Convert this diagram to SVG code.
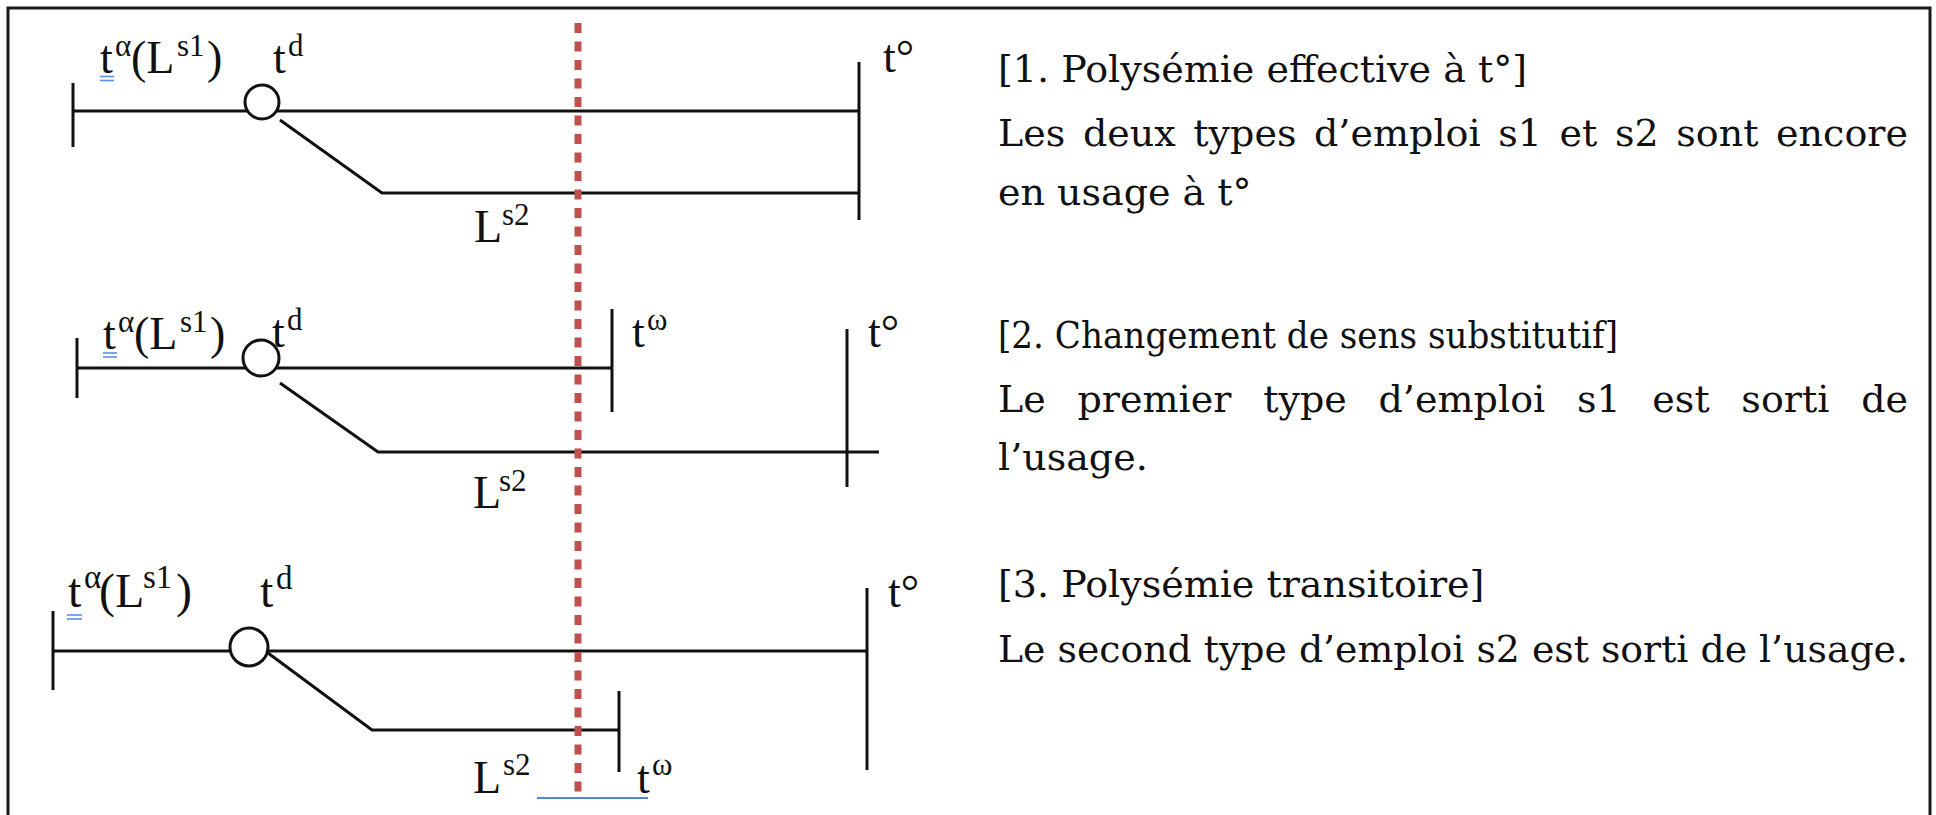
<svg xmlns="http://www.w3.org/2000/svg" width="1936" height="815" viewBox="0 0 1936 815">
<style>
.ln{stroke:#111;stroke-width:3;fill:none;stroke-linecap:butt}
.node{fill:#fff;stroke:#111;stroke-width:3}
.lab{font-family:"Liberation Serif","Times New Roman",serif;font-size:46px;fill:#111}
.sup{font-size:31px}
.lab3{font-size:48px}
.sup3{font-size:33px}
.txt{font-family:"DejaVu Serif","Liberation Serif",serif;font-size:38px;fill:#111}
.ul{stroke:#5B8FE8;stroke-width:1.6}
.red{stroke:#C0504D;stroke-width:7;stroke-dasharray:10 8.5}
</style>
<rect x="0" y="0" width="1936" height="815" fill="#fff"/>
<rect x="8" y="8" width="1922" height="830" fill="none" stroke="#1a1a1a" stroke-width="3"/>

<g id="connectors">
  <!-- diagram 1 -->
  <line class="ln" x1="73" y1="111" x2="859" y2="111"/>
  <polyline class="ln" points="280,120 382,193 859,193"/>
  <line class="ln" x1="73" y1="83" x2="73" y2="147"/>
  <line class="ln" x1="859" y1="62" x2="859" y2="220"/>
  <!-- diagram 2 -->
  <line class="ln" x1="77" y1="368" x2="612" y2="368"/>
  <polyline class="ln" points="280,383 378,452 879,452"/>
  <line class="ln" x1="77" y1="338" x2="77" y2="398"/>
  <line class="ln" x1="612" y1="309" x2="612" y2="412"/>
  <line class="ln" x1="847" y1="329" x2="847" y2="487"/>
  <!-- diagram 3 -->
  <line class="ln" x1="53" y1="651" x2="867" y2="651"/>
  <polyline class="ln" points="268,653 372,730 619,730"/>
  <line class="ln" x1="53" y1="611" x2="53" y2="690"/>
  <line class="ln" x1="867" y1="588" x2="867" y2="770"/>
  <line class="ln" x1="619" y1="691" x2="619" y2="772"/>
  <!-- red dashed reference line -->
  <line class="red" x1="578" y1="23" x2="578" y2="796"/>
  <!-- blue marks -->
  <line class="ul" x1="100" y1="76.5" x2="114" y2="76.5"/>
  <line class="ul" x1="100" y1="80.5" x2="114" y2="80.5"/>
  <line class="ul" x1="103" y1="353" x2="117" y2="353"/>
  <line class="ul" x1="103" y1="357" x2="117" y2="357"/>
  <line class="ul" x1="67" y1="615" x2="82" y2="615"/>
  <line class="ul" x1="67" y1="619" x2="82" y2="619"/>
  <line x1="537" y1="798" x2="648" y2="798" stroke="#4A86E8" stroke-width="2.2"/>
</g>

<g id="diagram1">
  <circle class="node" cx="262" cy="102" r="17"/>
  <text class="lab"><tspan x="100" y="73">t</tspan><tspan class="sup" x="115" y="56">α</tspan><tspan x="131" y="73">(L</tspan><tspan class="sup" x="177" y="56">s1</tspan><tspan x="207" y="73">)</tspan></text>
  <text class="lab"><tspan x="273" y="73">t</tspan><tspan class="sup" x="288" y="56">d</tspan></text>
  <text class="lab" x="883" y="72">t°</text>
  <text class="lab"><tspan x="474" y="242">L</tspan><tspan class="sup" x="502" y="225">s2</tspan></text>
</g>

<g id="diagram2">
  <circle class="node" cx="261" cy="358" r="18"/>
  <text class="lab"><tspan x="103" y="349">t</tspan><tspan class="sup" x="118" y="332">α</tspan><tspan x="134" y="349">(L</tspan><tspan class="sup" x="180" y="332">s1</tspan><tspan x="210" y="349">)</tspan></text>
  <text class="lab"><tspan x="272" y="347">t</tspan><tspan class="sup" x="287" y="330">d</tspan></text>
  <text class="lab"><tspan x="632" y="347">t</tspan><tspan class="sup" x="647" y="330">ω</tspan></text>
  <text class="lab" x="868" y="347">t°</text>
  <text class="lab"><tspan x="473" y="508">L</tspan><tspan class="sup" x="499" y="491">s2</tspan></text>
</g>

<g id="diagram3">
  <circle class="node" cx="249" cy="647" r="19"/>
  <text class="lab lab3"><tspan x="68" y="607">t</tspan><tspan class="sup3" x="84" y="588">α</tspan><tspan x="99" y="607">(L</tspan><tspan class="sup3" x="143" y="588">s1</tspan><tspan x="176" y="607">)</tspan></text>
  <text class="lab lab3"><tspan x="260" y="607">t</tspan><tspan class="sup3" x="276" y="589">d</tspan></text>
  <text class="lab" x="888" y="607">t°</text>
  <text class="lab"><tspan x="473" y="793">L</tspan><tspan class="sup" x="503" y="775">s2</tspan></text>
  <text class="lab"><tspan x="637" y="793">t</tspan><tspan class="sup" x="652" y="775">ω</tspan></text>
</g>

<g id="text1">
  <text class="txt" x="998" y="82">[1. Polysémie effective à t°]</text>
  <text class="txt" x="998" y="146" word-spacing="5.5" textLength="910" lengthAdjust="spacing">Les deux types d’emploi s1 et s2 sont encore</text>
  <text class="txt" x="998" y="205">en usage à t°</text>
</g>
<g id="text2">
  <text class="txt" x="998" y="348" textLength="620" lengthAdjust="spacingAndGlyphs">[2. Changement de sens substitutif]</text>
  <text class="txt" x="998" y="412" word-spacing="19.5" textLength="910" lengthAdjust="spacing">Le premier type d’emploi s1 est sorti de</text>
  <text class="txt" x="998" y="470">l’usage.</text>
</g>
<g id="text3">
  <text class="txt" x="998" y="597">[3. Polysémie transitoire]</text>
  <text class="txt" x="998" y="662" textLength="910" lengthAdjust="spacingAndGlyphs">Le second type d’emploi s2 est sorti de l’usage.</text>
</g>
</svg>
